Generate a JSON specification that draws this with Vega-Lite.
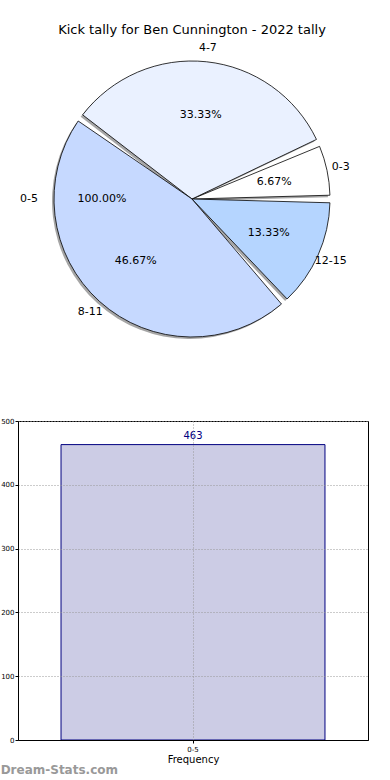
{
  "$schema": "https://vega.github.io/schema/vega-lite/v6.json",
  "padding": {"left": 0, "top": 23, "right": 0, "bottom": 0},
  "spacing": 67,
  "config": {"font": "DejaVu Sans", "view": {"stroke": "black", "strokeWidth": 1}},
  "vconcat": [
    {
      "width": 348,
      "height": 300,
      "view": {"stroke": null},
      "title": {"text": "Kick tally for Ben Cunnington - 2022 tally", "fontSize": 13, "fontWeight": "normal", "offset": 5, "color": "black", "anchor": "middle"},
      "resolve": {"scale": {"theta": "independent"}},
      "layer": [
        {
          "data": {"name": "kicks", "values": [
            {"bin": "0-3", "lo": 0, "games": 1, "pct": "6.67%"},
            {"bin": "4-7", "lo": 4, "games": 5, "pct": "33.33%"},
            {"bin": "8-11", "lo": 8, "games": 7, "pct": "46.67%"},
            {"bin": "12-15", "lo": 12, "games": 2, "pct": "13.33%"}
          ]},
          "encoding": {
            "theta": {"field": "games", "type": "quantitative", "stack": true, "scale": {"range": [1.5708, 7.854]}},
            "order": {"field": "lo", "type": "quantitative", "sort": "descending"}
          },
          "layer": [
            {"mark": {"type": "arc", "radius": 138, "padAngle": 0.055, "fill": "#808080", "opacity": 0.7, "xOffset": -2, "yOffset": 2}},
            {"mark": {"type": "arc", "radius": 138, "padAngle": 0.055, "stroke": "black", "strokeWidth": 0.8},
             "encoding": {"color": {"field": "bin", "type": "nominal", "legend": null,
               "scale": {"domain": ["0-3", "4-7", "8-11", "12-15"], "range": ["#ffffff", "#eaf1ff", "#c6d9ff", "#b5d5ff"]}}}},
            {"mark": {"type": "text", "radius": 84, "fontSize": 11, "color": "black"},
             "encoding": {"text": {"field": "pct"}}},
            {"mark": {"type": "text", "radius": 152, "fontSize": 11, "color": "black"},
             "encoding": {"text": {"field": "bin"}}}
          ]
        },
        {
          "data": {"values": [{"bin": "0-5", "games": 463, "pct": "100.00%"}]},
          "encoding": {
            "theta": {"field": "games", "type": "quantitative", "stack": true, "scale": {"range": [1.5708, 7.854]}}
          },
          "layer": [
            {"mark": {"type": "text", "radius": 90, "fontSize": 11, "color": "black"}, "encoding": {"text": {"field": "pct"}}},
            {"mark": {"type": "text", "radius": 163, "fontSize": 11, "color": "black"}, "encoding": {"text": {"field": "bin"}}}
          ]
        }
      ]
    },
    {
      "width": 350,
      "height": 319,
      "title": {"text": "Dream-Stats.com", "orient": "bottom", "anchor": "start", "frame": "bounds", "fontSize": 12, "fontWeight": "bold", "color": "#999999", "offset": 1},
      "data": {"values": [{"bin": "0-5", "count": 463}]},
      "encoding": {
        "x": {"field": "bin", "type": "nominal", "title": "Frequency",
          "scale": {"paddingInner": 0, "paddingOuter": 0.163},
          "axis": {"labelAngle": 0, "labelFontSize": 7, "titleFontSize": 10, "titleFontWeight": "normal", "titlePadding": 2, "zindex": 1,
            "grid": true, "bandPosition": 0.5, "gridDash": [1, 2], "gridColor": "#999999", "domainColor": "black", "tickColor": "black", "tickSize": 3, "labelColor": "black", "titleColor": "black"}},
        "y": {"field": "count", "type": "quantitative", "title": null,
          "scale": {"domain": [0, 500], "nice": false},
          "axis": {"values": [0, 100, 200, 300, 400, 500], "labelFontSize": 7, "grid": true, "gridDash": [1, 2], "gridColor": "#999999", "zindex": 1,
            "domainColor": "black", "tickColor": "black", "tickSize": 3, "labelPadding": 1, "labelColor": "black"}}
      },
      "layer": [
        {"mark": {"type": "bar", "fill": "#ccccE5", "stroke": "#000080", "strokeWidth": 1}},
        {"mark": {"type": "text", "dy": -9, "fontSize": 10, "color": "#000080"}, "encoding": {"text": {"field": "count", "type": "quantitative"}}}
      ]
    }
  ]
}
